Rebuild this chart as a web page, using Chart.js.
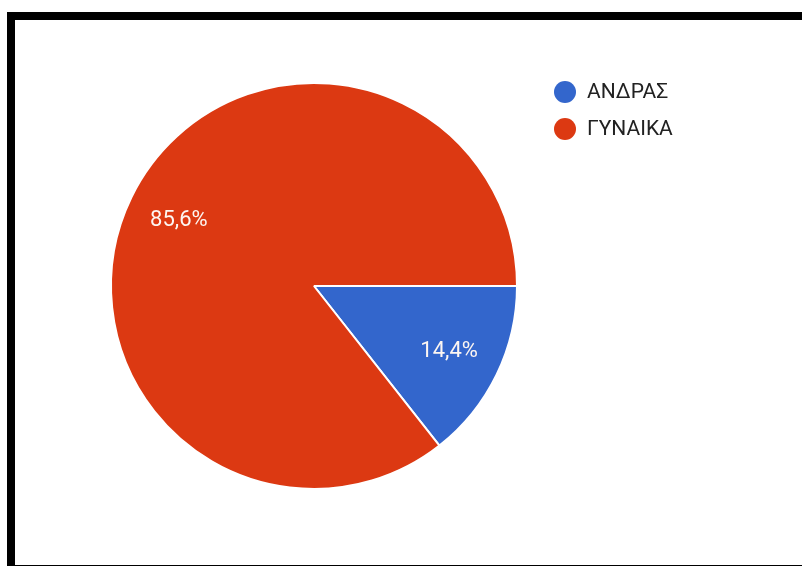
<!DOCTYPE html>
<html>
<head>
<meta charset="utf-8">
<script src="https://cdn.jsdelivr.net/npm/chart.js@4.4.0/dist/chart.umd.min.js"></script>
<style>
  html, body { margin: 0; padding: 0; background: #fff; }
  body { width: 802px; height: 566px; position: relative; overflow: hidden; }
  #frame {
    position: absolute; left: 7px; top: 12px; width: 820px; height: 545px;
    border-left: 8px solid #000; border-top: 8px solid #000; border-bottom: 4px solid #000;
  }
  #chart { position: absolute; left: 0; top: 0; }
</style>
</head>
<body>
<div id="frame"></div>
<canvas id="chart" width="802" height="566"></canvas>
<script>
// answers per gender
const labels  = ['ΑΝΔΡΑΣ', 'ΓΥΝΑΙΚΑ'];
const values  = [14.4, 85.6];
const colours = ['#3366cc', '#dc3912'];

const FONT = 'Roboto, "Noto Sans", sans-serif';

// percentage text inside each slice
const sliceLabels = {
  id: 'sliceLabels',
  afterDatasetsDraw(chart) {
    const ctx = chart.ctx;
    const meta = chart.getDatasetMeta(0);
    ctx.save();
    ctx.font = '22px ' + FONT;
    ctx.fillStyle = '#fdf6f2';
    ctx.textAlign = 'center';
    ctx.textBaseline = 'middle';
    meta.data.forEach((arc, i) => {
      const p = arc.getProps(['x', 'y', 'startAngle', 'endAngle', 'outerRadius'], true);
      const mid = (p.startAngle + p.endAngle) / 2;
      const r = p.outerRadius * 0.74;
      const txt = values[i].toFixed(1).replace('.', ',') + '%';
      ctx.fillText(txt, p.x + Math.cos(mid) * r, p.y + Math.sin(mid) * r);
    });
    ctx.restore();
  }
};

// legend top right, circle markers
const sideLegend = {
  id: 'sideLegend',
  afterDraw(chart) {
    const ctx = chart.ctx;
    ctx.save();
    ctx.font = '21px ' + FONT;
    ctx.textBaseline = 'middle';
    labels.forEach((name, i) => {
      const y = 92 + i * 37;
      ctx.beginPath();
      ctx.arc(565, y, 11, 0, Math.PI * 2);
      ctx.fillStyle = colours[i];
      ctx.fill();
      ctx.fillStyle = '#222222';
      ctx.fillText(name, 587, y + 1);
    });
    ctx.restore();
  }
};

new Chart(document.getElementById('chart'), {
  type: 'pie',
  data: {
    labels: labels,
    datasets: [{
      data: values,
      backgroundColor: colours,
      borderColor: '#ffffff',
      borderWidth: 2
    }]
  },
  options: {
    responsive: false,
    animation: false,
    rotation: 90,
    layout: { padding: { left: 110, right: 284, top: 82, bottom: 76 } },
    plugins: {
      legend: { display: false },
      tooltip: { enabled: false }
    }
  },
  plugins: [sliceLabels, sideLegend]
});
</script>
</body>
</html>
